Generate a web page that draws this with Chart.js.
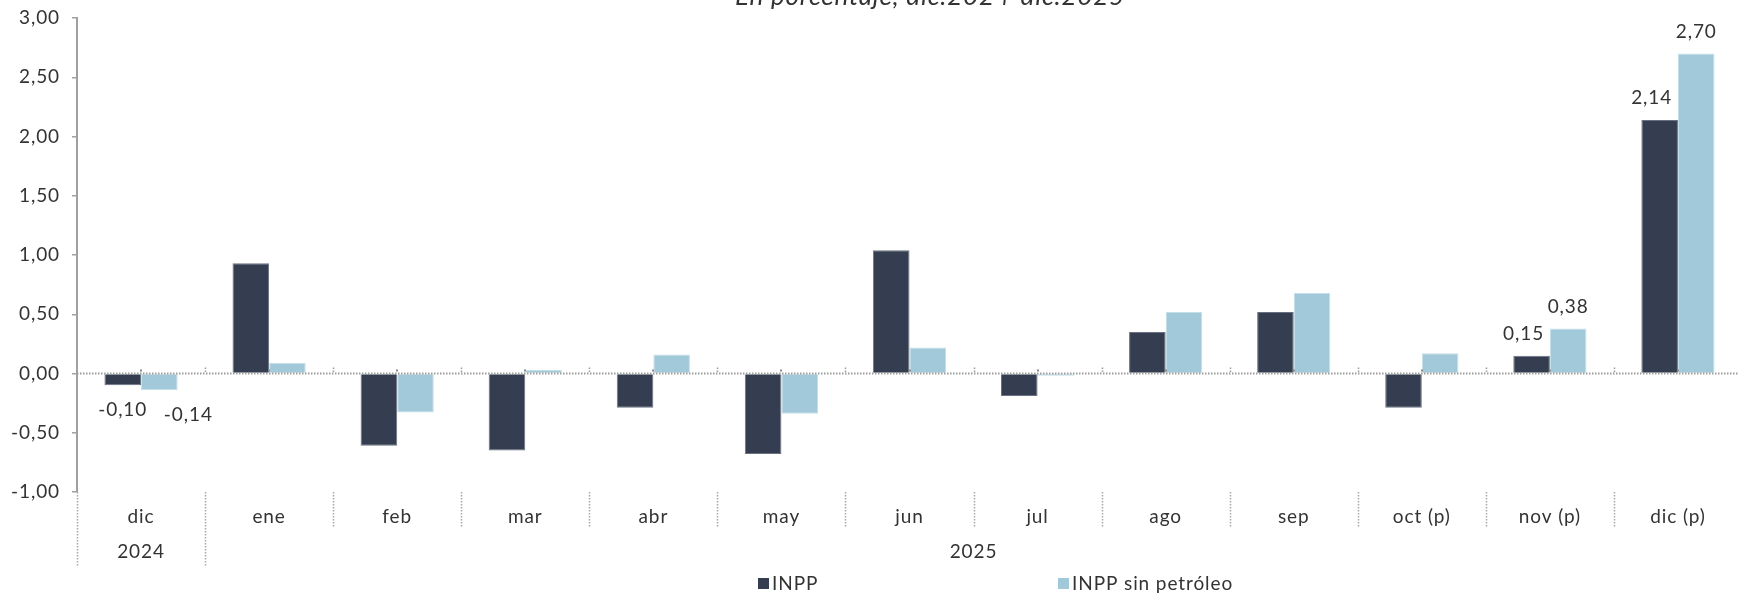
<!DOCTYPE html>
<html><head><meta charset="utf-8">
<script src="https://cdn.jsdelivr.net/npm/chart.js@4.4.1/dist/chart.umd.min.js"></script>
<style>html,body{margin:0;padding:0;background:#fff;overflow:hidden}#wrap{width:1742px;height:594px;position:relative}</style>
</head><body><div id="wrap"><canvas id="c"></canvas></div>
<script>
// ---- data ----
const titleText = 'En porcentaje, dic.2024-dic.2025';
const months = ['dic','ene','feb','mar','abr','may','jun','jul','ago','sep','oct (p)','nov (p)','dic (p)'];
const yearLabels = ['2024','2025'];
const yearSpans = [1, 12];
const seriesNames = ['INPP','INPP sin petróleo'];
const inpp = [-0.10, 0.93, -0.61, -0.65, -0.29, -0.68, 1.04, -0.19, 0.35, 0.52, -0.29, 0.15, 2.14];
const inppSinPetroleo = [-0.14, 0.09, -0.33, 0.03, 0.16, -0.34, 0.22, -0.02, 0.52, 0.68, 0.17, 0.38, 2.70];
const labeledIdx = [0, 11, 12];
const yMin = -1, yMax = 3, yStep = 0.5;

// ---- style ----
const FONT = 'Lato, "Noto Sans", sans-serif';
const FS = 19;
const FW = '400';
const LS = '0.9px';
const TXT = '#333333';
const DARK = '#343e50', LIGHT = '#a2c9d9';
const fmt = v => v.toFixed(2).replace('.', ',');
const labelShift = { '0-11': -8, '0-12': -8, '1-0': 29 };

const deco = {
  id: 'deco',
  beforeDraw(chart) { chart.ctx.letterSpacing = LS; },
  afterDatasetsDraw(chart) {
    const { ctx, chartArea: ca, scales: { x, y } } = chart;
    const y0 = y.getPixelForValue(0);
    const n = months.length;
    const half = (x.getPixelForValue(1) - x.getPixelForValue(0)) / 2;
    const bound = i => (i < n ? x.getPixelForValue(i) - half : x.getPixelForValue(n - 1) + half);
    ctx.save();
    ctx.letterSpacing = LS;
    // zero line
    ctx.strokeStyle = '#9c9c9c'; ctx.lineWidth = 2; ctx.setLineDash([1.5, 1.5]);
    ctx.beginPath(); ctx.moveTo(ca.left, y0); ctx.lineTo(ca.right, y0); ctx.stroke();
    // small ticks on zero line
    ctx.lineWidth = 1.5;
    for (let i = 1; i <= n; i++) {
      const bx = Math.round(bound(i)) + 0.5;
      ctx.beginPath(); ctx.moveTo(bx, y0 - 6); ctx.lineTo(bx, y0); ctx.stroke();
    }
    ctx.setLineDash([]);
    ctx.fillStyle = '#8a8a8a';
    for (let i = 0; i < n; i++) ctx.fillRect(Math.round(x.getPixelForValue(i)) - 1, y0 - 4, 2, 2);
    // category separators in label area
    ctx.strokeStyle = '#a8a8a8'; ctx.lineWidth = 1.5; ctx.setLineDash([1.5, 1.5]);
    const yearBounds = [0];
    yearSpans.reduce((acc, s) => { yearBounds.push(acc + s); return acc + s; }, 0);
    for (let i = 0; i <= n; i++) {
      const bx = Math.round(bound(i)) + 0.5;
      const isYear = yearBounds.includes(i);
      ctx.beginPath(); ctx.moveTo(bx, ca.bottom); ctx.lineTo(bx, isYear ? ca.bottom + 74 : ca.bottom + 36); ctx.stroke();
    }
    ctx.setLineDash([]);
    // month and year labels
    ctx.fillStyle = TXT; ctx.font = `${FW} ${FS}px ${FONT}`;
    ctx.textAlign = 'center'; ctx.textBaseline = 'middle';
    months.forEach((m, i) => ctx.fillText(m, x.getPixelForValue(i), ca.bottom + 25));
    yearLabels.forEach((yl, k) => {
      const a = bound(yearBounds[k]), b = bound(yearBounds[k + 1]);
      ctx.fillText(yl, (a + b) / 2, ca.bottom + 60);
    });
    // data labels
    chart.data.datasets.forEach((ds, di) => {
      const meta = chart.getDatasetMeta(di);
      labeledIdx.forEach(i => {
        const v = ds.data[i];
        const el = meta.data[i];
        const dx = labelShift[di + '-' + i] || 0;
        const ty = v < 0 ? el.y + 25 : el.y - 22;
        ctx.fillText(fmt(v), el.x + dx, ty);
      });
    });
    // legend
    const legX = [758, 1058];
    const legY = 584;
    ctx.textAlign = 'left';
    chart.data.datasets.forEach((ds, di) => {
      ctx.fillStyle = ds.backgroundColor;
      ctx.fillRect(legX[di], legY - 6, 11, 11);
      ctx.fillStyle = TXT;
      ctx.fillText(ds.label, legX[di] + 14, legY);
    });
    // title (cut off at top)
    ctx.font = `italic ${FW} 26px ${FONT}`;
    ctx.letterSpacing = '0.8px';
    ctx.textAlign = 'center'; ctx.textBaseline = 'alphabetic';
    ctx.fillText(titleText, 930, 5);
    ctx.restore();
  }
};

new Chart(document.getElementById('c'), {
  type: 'bar',
  data: {
    labels: months,
    datasets: [
      { label: seriesNames[0], data: inpp, backgroundColor: DARK, borderColor: '#6a7282', borderWidth: 1 },
      { label: seriesNames[1], data: inppSinPetroleo, backgroundColor: LIGHT, borderColor: '#c4dfe9', borderWidth: 1 }
    ]
  },
  options: {
    responsive: true, maintainAspectRatio: false, animation: false,
    layout: { padding: { top: 18, bottom: 102, left: 0, right: 0 } },
    datasets: { bar: { categoryPercentage: 0.5714, barPercentage: 1 } },
    plugins: { legend: { display: false }, tooltip: { enabled: false }, title: { display: false } },
    scales: {
      x: { display: false },
      y: {
        min: yMin, max: yMax,
        ticks: { stepSize: yStep, color: TXT, font: { family: FONT, size: FS, weight: FW }, padding: 12, callback: v => fmt(v) },
        grid: { drawOnChartArea: false, drawTicks: true, tickLength: 5, color: '#a0a0a0', lineWidth: 1.5 },
        border: { display: true, color: '#a0a0a0', width: 2 },
        afterFit(s) { s.width = 77; s.paddingTop = 0; s.paddingBottom = 0; }
      }
    }
  },
  plugins: [deco]
});
</script></body></html>
